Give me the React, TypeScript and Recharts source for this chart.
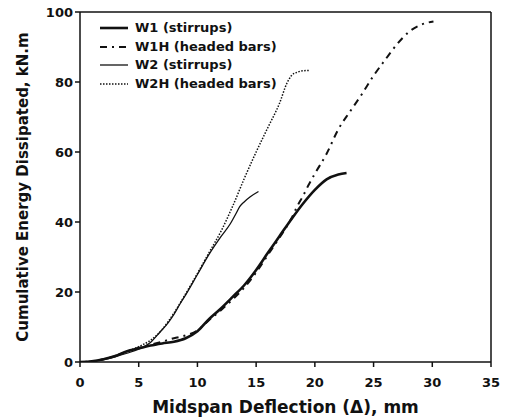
import React from 'react';
import { LineChart, Line, XAxis, YAxis, Legend, ReferenceLine } from 'recharts';

const xTicks = [0, 5, 10, 15, 20, 25, 30, 35];
const yTicks = [0, 20, 40, 60, 80, 100];

const w1X = [0, 1, 2, 3, 4, 5, 6, 7, 8, 9, 10, 11, 12, 13, 14, 15, 16, 17, 18, 19, 20, 21, 22, 22.7];
const w1Y = [0, 0.2, 0.8, 1.7, 3.1, 3.9, 4.7, 5.3, 5.8, 6.8, 8.8, 12.3, 15.3, 18.6, 22, 26.3, 31.2, 36, 40.8, 45.3, 49.2, 52.2, 53.6, 54.0];

const w1hX = [0, 1, 2, 3, 4, 5, 6, 7, 8, 9, 10, 11, 12, 13, 14, 15, 16, 17, 18, 18.5, 19, 19.5, 20, 21, 22, 23, 24, 25, 26, 27, 28, 29, 30.1];
const w1hY = [0, 0.2, 0.8, 1.7, 3.0, 4.0, 4.9, 5.8, 6.8, 7.6, 9.0, 12.0, 14.8, 17.9, 21.3, 25.6, 30.6, 35.6, 41, 44.5, 47.5, 50.8, 53.8, 59.5, 66.5, 71.6, 76.5, 81.8, 86.4, 90.8, 94.3, 96.3, 97.3];

const w2X = [0, 1, 2, 3, 4, 5, 6, 6.8, 7.5, 8, 8.5, 9, 10, 11, 12, 12.8, 13.3, 13.6, 14, 14.5, 15.2];
const w2Y = [0, 0.2, 0.7, 1.5, 2.5, 3.7, 5.6, 8.5, 11.2, 13.6, 16.5, 19.2, 25, 30.8, 35.8, 39.5, 42.5, 44.4, 45.8, 47.2, 48.7];

const w2hX = [0, 1, 2, 3, 4, 5, 6, 7, 8, 9, 10, 11, 12, 13, 14, 15, 16, 17, 17.6, 18, 18.5, 19, 19.6];
const w2hY = [0, 0.2, 0.8, 1.8, 3.0, 4.4, 6.2, 9.3, 14, 19.5, 25.3, 31.3, 37.3, 44.5, 52.5, 60, 67, 74, 79.5, 81.8, 82.8, 83.2, 83.3];

const seriesNames = ['W1 (stirrups)', 'W1H (headed bars)', 'W2 (stirrups)', 'W2H (headed bars)'];

const toPts = (xs: number[], ys: number[]) => xs.map((x, i) => ({ x, y: ys[i] }));

const INK = '#111';
const FONT = '"DejaVu Sans", sans-serif';

const styles = [
  { strokeWidth: 2.6, dash: undefined as string | undefined },
  { strokeWidth: 2, dash: '7 5 2 5' },
  { strokeWidth: 1.3, dash: undefined as string | undefined },
  { strokeWidth: 1.5, dash: '1.5 1.5' },
];

const datasets = [toPts(w1X, w1Y), toPts(w1hX, w1hY), toPts(w2X, w2Y), toPts(w2hX, w2hY)];

const renderLegend = () => (
  <div style={{ fontFamily: FONT, fontWeight: 'bold', fontSize: 13, color: INK }}>
    {seriesNames.map((n, i) => (
      <div key={n} style={{ display: 'flex', alignItems: 'center', height: 18.5 }}>
        <svg width={28} height={10} style={{ display: 'block' }}>
          <line x1={0} y1={5} x2={28} y2={5} stroke={INK} strokeWidth={styles[i].strokeWidth} strokeDasharray={styles[i].dash} />
        </svg>
        <span style={{ marginLeft: 7, whiteSpace: 'nowrap', lineHeight: '18.5px' }}>{n}</span>
      </div>
    ))}
  </div>
);

export default function App() {
  const tickStyle = { fontFamily: FONT, fontWeight: 'bold', fontSize: 13, fill: INK };
  return (
    <div style={{ position: 'absolute', left: 0, top: 0, width: 508, height: 419, background: '#fff' }}>
      <LineChart width={508} height={419} margin={{ top: 12, right: 17, left: 0, bottom: 0 }}>
        <XAxis
          xAxisId="b"
          type="number"
          dataKey="x"
          domain={[0, 35]}
          ticks={xTicks}
          allowDataOverflow
          height={57}
          tickSize={5}
          tickMargin={11}
          tick={tickStyle}
          stroke={INK}
          strokeWidth={1.5}
          label={{ value: 'Midspan Deflection (\u0394), mm', position: 'insideBottom', offset: 6, style: { fontFamily: FONT, fontWeight: 'bold', fontSize: 17, fill: INK } }}
        />
        <YAxis
          yAxisId="l"
          type="number"
          domain={[0, 100]}
          ticks={yTicks}
          allowDataOverflow
          width={80}
          tickSize={5}
          tickMargin={2}
          tick={tickStyle}
          stroke={INK}
          strokeWidth={1.5}
          label={{ value: 'Cumulative Energy Dissipated, kN.m', angle: -90, position: 'insideLeft', offset: 23, style: { textAnchor: 'middle', fontFamily: FONT, fontWeight: 'bold', fontSize: 15, fill: INK } }}
        />
        <ReferenceLine xAxisId="b" yAxisId="l" y={100} stroke={INK} strokeWidth={1.5} ifOverflow="visible" />
        <ReferenceLine xAxisId="b" yAxisId="l" x={35} stroke={INK} strokeWidth={1.5} ifOverflow="visible" />
        <Legend
          layout="vertical"
          align="center"
          verticalAlign="middle"
          content={renderLegend}
          wrapperStyle={{ position: 'absolute', left: 100, top: 19, width: 'auto', height: 'auto' }}
        />
        {datasets.map((d, i) => (
          <Line
            key={seriesNames[i]}
            xAxisId="b"
            yAxisId="l"
            data={d}
            dataKey="y"
            name={seriesNames[i]}
            type="monotone"
            stroke={INK}
            strokeWidth={styles[i].strokeWidth}
            strokeDasharray={styles[i].dash}
            dot={false}
            activeDot={false}
            isAnimationActive={false}
          />
        ))}
      </LineChart>
    </div>
  );
}
